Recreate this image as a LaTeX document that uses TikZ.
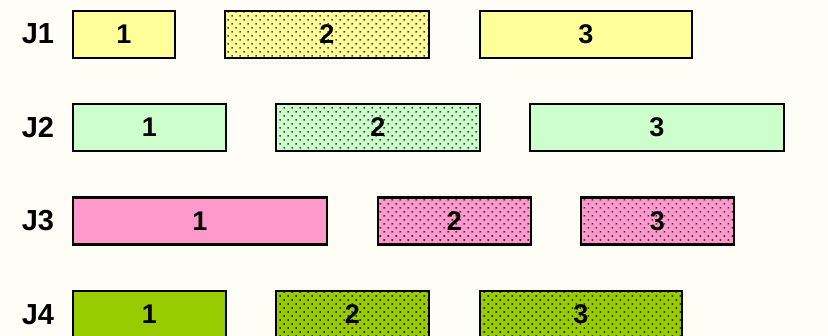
\documentclass[tikz,border=0pt]{standalone}
\usepackage{fontspec}
\setmainfont{Liberation Sans}
\usetikzlibrary{patterns.meta}
\definecolor{bgc}{RGB}{254,254,246}
\definecolor{ylw}{RGB}{255,255,153}
\definecolor{lgr}{RGB}{204,255,204}
\definecolor{pnk}{RGB}{255,153,204}
\definecolor{grn}{RGB}{153,204,0}
\tikzset{
  bar/.style={draw=black, line width=2.2pt, minimum height=47pt, inner sep=0pt,
    font=\bfseries\fontsize{27}{27}\selectfont},
  plainbar/.style={bar, fill=#1},
  dotbar/.style={bar, preaction={fill=#1},
    pattern={Dots[distance=5.66pt, radius=1.15pt, angle=45]}, pattern color=#1!30!black},
  jlabel/.style={font=\bfseries\fontsize{29}{29}\selectfont, inner sep=0pt}
}
\begin{document}
\begin{tikzpicture}[x=1pt,y=-1pt]
\fill[bgc] (0,0) rectangle (828,336);
\useasboundingbox (0,0) rectangle (828,336);
% J1
\node[jlabel] (l1) at (38,34) {J1};
\node[plainbar=ylw, minimum width=102pt] (j1a) at (124,34.5) {1};
\node[dotbar=ylw, minimum width=204pt] (j1b) at (327,34.5) {2};
\node[plainbar=ylw, minimum width=212pt] (j1c) at (586,34.5) {3};
% J2
\node[jlabel] (l2) at (38,127.5) {J2};
\node[plainbar=lgr, minimum width=153pt] (j2a) at (149.5,127.5) {1};
\node[dotbar=lgr, minimum width=204pt] (j2b) at (378,127.5) {2};
\node[plainbar=lgr, minimum width=254pt] (j2c) at (657,127.5) {3};
% J3
\node[jlabel] (l3) at (38,221) {J3};
\node[plainbar=pnk, minimum width=254pt] (j3a) at (200,221) {1};
\node[dotbar=pnk, minimum width=153pt] (j3b) at (454.5,221) {2};
\node[dotbar=pnk, minimum width=153pt] (j3c) at (657.5,221) {3};
% J4
\node[jlabel] (l4) at (38,314.5) {J4};
\node[plainbar=grn, minimum width=153pt] (j4a) at (149.5,314.5) {1};
\node[dotbar=grn, minimum width=153pt] (j4b) at (352.5,314.5) {2};
\node[dotbar=grn, minimum width=202pt] (j4c) at (581,314.5) {3};
\end{tikzpicture}
\end{document}
